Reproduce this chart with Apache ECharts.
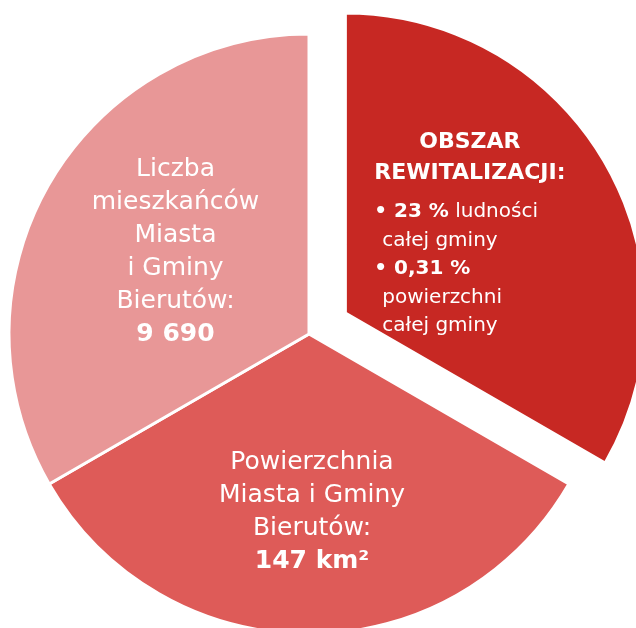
<!DOCTYPE html>
<html>
<head>
<meta charset="utf-8">
<script src="https://cdn.jsdelivr.net/npm/echarts@6/dist/echarts.min.js"></script>
<style>
html, body { margin: 0; padding: 0; background: #fff; }
#chart { width: 636px; height: 628px; }
</style>
</head>
<body>
<div id="chart"></div>
<script>
// slices, clockwise from 12 o'clock
var sliceNames = ['Obszar rewitalizacji', 'Powierzchnia Miasta i Gminy Bierutów', 'Liczba mieszkańców Miasta i Gminy Bierutów'];
var sliceValues = [1, 1, 1];
var populationTotal = '9 690';
var areaTotal = '147 km²';
var populationShare = '23 %';
var areaShare = '0,31 %';

var sliceColors = ['#C72823', '#DE5B58', '#E89797'];
var labelShift = [[-8, -3], [3, 25], [-1, -6]];

var font = 'DejaVu Sans';

function labelText(p) {
  if (p.dataIndex === 0) {
    return [
      '{h|OBSZAR}',
      '{h|REWITALIZACJI:}',
      '{s| }',
      '{b|• ' + populationShare + '}{t| ludności}',
      '{i|całej gminy}',
      '{b|• ' + areaShare + '}',
      '{i|powierzchni}',
      '{i|całej gminy}'
    ].join('\n');
  }
  if (p.dataIndex === 1) {
    return 'Powierzchnia\nMiasta i Gminy\nBierutów:\n{v|' + areaTotal + '}';
  }
  return 'Liczba\nmieszkańców\nMiasta\ni Gminy\nBierutów:\n{v|' + populationTotal + '}';
}

var chart = echarts.init(document.getElementById('chart'));
chart.setOption({
  animation: false,
  series: [{
    type: 'pie',
    center: [309, 334],
    radius: 300,
    startAngle: 90,
    selectedMode: 'single',
    selectedOffset: 42,
    silent: true,
    itemStyle: { borderColor: '#fff', borderWidth: 3 },
    label: {
      show: true,
      position: 'inside',
      color: '#fff',
      fontFamily: font,
      fontSize: 25,
      lineHeight: 33,
      align: 'center',
      formatter: labelText,
      rich: {
        v: { fontFamily: font, fontSize: 25, fontWeight: 'bold', color: '#fff', lineHeight: 33 },
        h: { fontFamily: font, fontSize: 22, fontWeight: 'bold', color: '#fff', lineHeight: 31, align: 'center' },
        s: { fontSize: 1, lineHeight: 9, align: 'left' },
        b: { fontFamily: font, fontSize: 20, fontWeight: 'bold', color: '#fff', lineHeight: 28.5, align: 'left' },
        t: { fontFamily: font, fontSize: 20, color: '#fff', lineHeight: 28.5, align: 'left' },
        i: { fontFamily: font, fontSize: 20, color: '#fff', lineHeight: 28.5, align: 'left', padding: [0, 0, 0, 8] }
      }
    },
    labelLine: { show: false },
    labelLayout: function (p) {
      return { dx: labelShift[p.dataIndex][0], dy: labelShift[p.dataIndex][1] };
    },
    data: sliceNames.map(function (n, i) {
      return {
        name: n,
        value: sliceValues[i],
        selected: i === 0,
        itemStyle: { color: sliceColors[i] }
      };
    })
  }]
});
</script>
</body>
</html>
